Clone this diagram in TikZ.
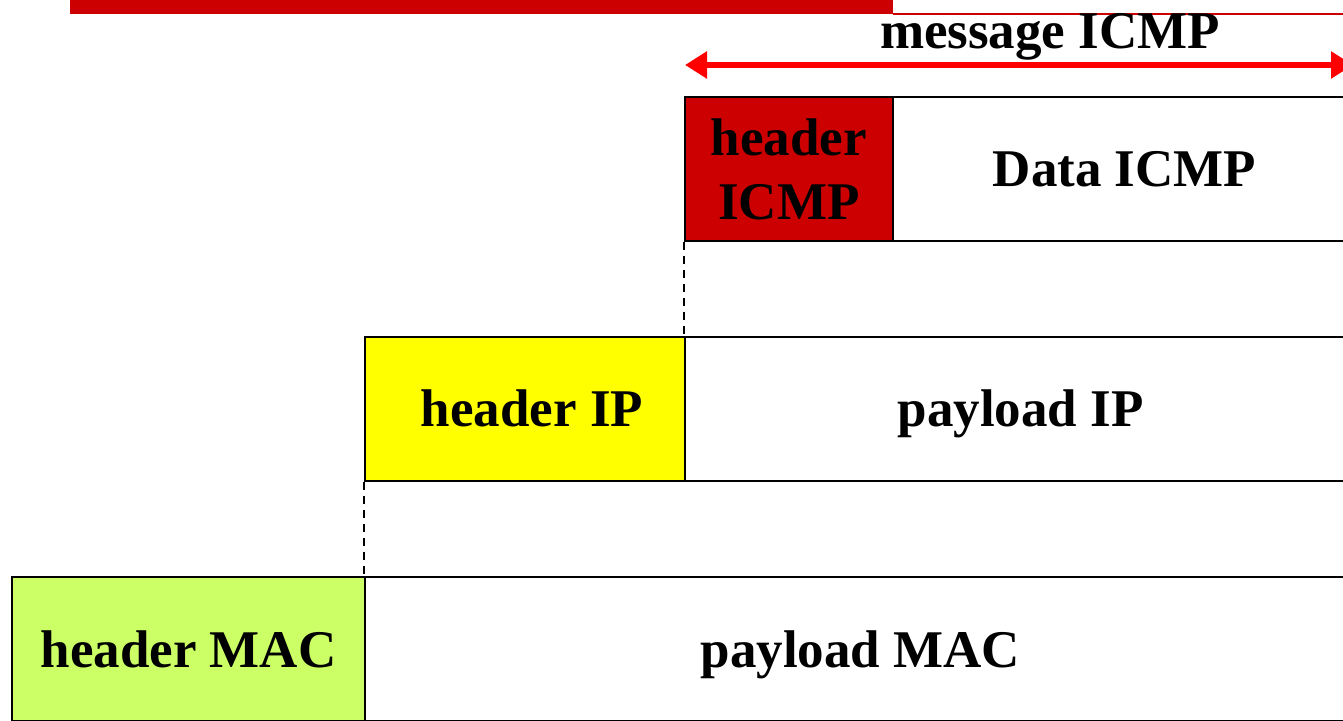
\documentclass[tikz,border=0pt]{standalone}
\usepackage{fontspec}
\setmainfont{Liberation Serif}
\usetikzlibrary{arrows.meta}
\definecolor{hdrred}{HTML}{CC0000}
\definecolor{hdryellow}{HTML}{FFFF00}
\definecolor{hdrgreen}{HTML}{CCFF66}
\definecolor{arrred}{HTML}{FF0000}
\tikzset{
  field/.style={draw=black, line width=2.6pt, inner sep=0pt, minimum height=144pt,
    font=\fontsize{53}{64}\selectfont\bfseries, align=center},
  oneline/.style={field, text height=36pt, text depth=0pt},
  guide/.style={black, line width=2pt, dash pattern=on 8pt off 6pt},
  span/.style={arrred, line width=5.5pt, {Triangle[length=22pt,width=26pt]}-{Triangle[length=22pt,width=26pt]}},
}
\begin{document}
\begin{tikzpicture}[x=1pt,y=1pt]
\useasboundingbox (0,0) rectangle (1343,720);
\clip (0,0) rectangle (1343,720);
% title bar
\fill[hdrred] (70,706) rectangle (893,720);
\fill[hdrred] (893,705) rectangle (1343,707);
% ICMP layer
\node[field, fill=hdrred, minimum width=208pt] (hicmp) at (789,551) {header\\ICMP};
\node[oneline, fill=white, minimum width=463pt] (dicmp) at (1124.5,551) {Data ICMP};
% IP layer
\node[oneline, fill=hdryellow, minimum width=320pt] (hip) at (525,311) {\hspace*{14pt}header IP};
\node[oneline, fill=white, minimum width=671pt] (pip) at (1020.5,311) {payload IP};
% MAC layer
\node[oneline, fill=hdrgreen, minimum width=353pt] (hmac) at (188.5,71) {header MAC};
\node[oneline, fill=white, minimum width=991pt] (pmac) at (860.5,71) {payload MAC};
% encapsulation guides
\draw[guide] (hicmp.south west) -- (hicmp.south west |- hip.north);
\draw[guide] (hip.south west) -- (hip.south west |- hmac.north);
% ICMP message span
\coordinate (ml) at (685,655);
\coordinate (mr) at (1353,655);
\draw[span] (ml) -- (mr);
\node[font=\fontsize{53}{60}\selectfont\bfseries] (mlabel) at (1050,683) {message ICMP};
\end{tikzpicture}
\end{document}
